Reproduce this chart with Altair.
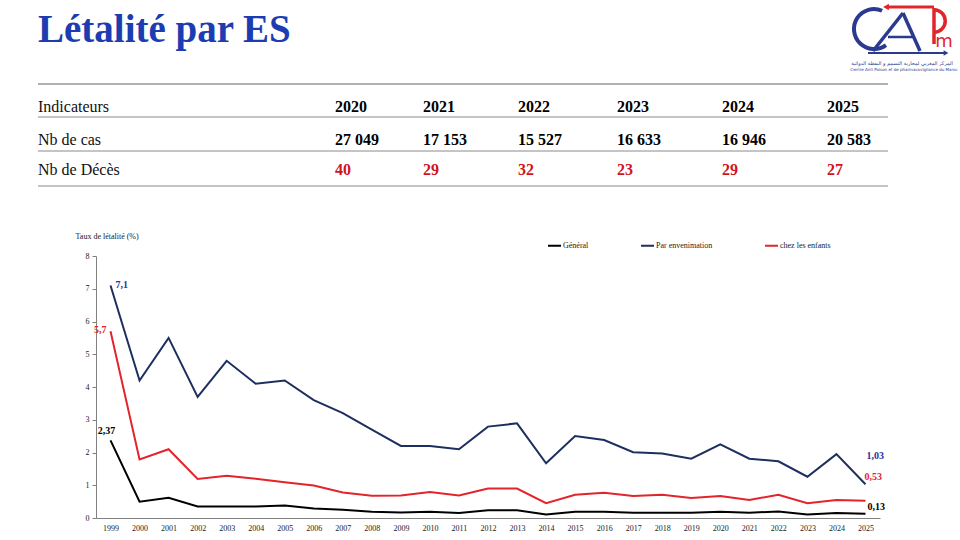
import altair as alt
import pandas as pd

# ---------------- data ----------------
years = list(range(1999, 2026))
general = [2.37, 0.50, 0.62, 0.35, 0.35, 0.35, 0.38, 0.29, 0.25, 0.19, 0.17, 0.19, 0.15,
           0.24, 0.24, 0.11, 0.19, 0.19, 0.16, 0.16, 0.16, 0.19, 0.16, 0.20, 0.11, 0.15, 0.13]
envenimation = [7.1, 4.2, 5.5, 3.7, 4.8, 4.1, 4.2, 3.6, 3.2, 2.7, 2.2, 2.2, 2.1,
                2.79, 2.89, 1.67, 2.5, 2.38, 2.01, 1.97, 1.81, 2.25, 1.81, 1.73, 1.26, 1.95, 1.03]
enfants = [5.7, 1.79, 2.1, 1.19, 1.29, 1.2, 1.09, 0.99, 0.78, 0.68, 0.69, 0.79, 0.69,
           0.9, 0.9, 0.45, 0.71, 0.77, 0.67, 0.71, 0.61, 0.67, 0.55, 0.71, 0.45, 0.55, 0.53]
series_names = ["Général", "Par envenimation", "chez les enfants"]
series_colors = ["#000000", "#1c2f5e", "#e3242b"]

table_years = [2020, 2021, 2022, 2023, 2024, 2025]
nb_cas = [27049, 17153, 15527, 16633, 16946, 20583]
nb_deces = [40, 29, 32, 23, 29, 27]
row_labels = ["Indicateurs", "Nb de cas", "Nb de Décès"]

# ---------------- layout ----------------
OX, OY = 96, 256          # plot-area origin on the page
W, H = 784, 262           # plot-area size
FONT = "Liberation Serif"
dummy = pd.DataFrame({"k": [0]})


def txt(x, y, s, **kw):
    return alt.Chart(dummy).mark_text(**kw).encode(
        x=alt.value(x - OX), y=alt.value(y - OY), text=alt.value(s))


def rule(x1, y1, x2, y2, color, w):
    return alt.Chart(dummy).mark_rule(color=color, strokeWidth=w).encode(
        x=alt.value(x1 - OX), y=alt.value(y1 - OY),
        x2=alt.value(x2 - OX), y2=alt.value(y2 - OY))


layers = []

# title
layers.append(txt(38, 42, "Létalité par ES", align="left", baseline="alphabetic",
                  font=FONT, fontSize=39, fontWeight="bold", color="#1c3db2"))

# ---------------- logo (approximation) ----------------
BLUE_L, RED_L = "#2b3a8f", "#e0262b"
layers.append(alt.Chart(dummy).mark_arc(radius=22, radius2=18, theta=2.5, theta2=6.7,
                                        color=BLUE_L).encode(x=alt.value(874 - OX), y=alt.value(29 - OY)))
layers.append(rule(873, 51, 903, 13, BLUE_L, 3.5))
layers.append(rule(903, 13, 920, 51, BLUE_L, 3.5))
layers.append(rule(888, 37, 914, 37, BLUE_L, 2.5))
layers.append(rule(934, 8, 934, 44, RED_L, 3.5))
layers.append(alt.Chart(dummy).mark_arc(radius=13, radius2=9.5, theta=0.0, theta2=3.1416,
                                        color=RED_L).encode(x=alt.value(934 - OX), y=alt.value(21 - OY)))
layers.append(rule(934, 7, 888, 7, RED_L, 3))
layers.append(alt.Chart(dummy).mark_point(shape="triangle-left", filled=True, size=45, opacity=1,
                                          color=RED_L).encode(x=alt.value(886 - OX), y=alt.value(7 - OY)))
layers.append(txt(944, 47, "m", align="center", baseline="alphabetic", font="DejaVu Sans",
                  fontSize=18, color=RED_L))
layers.append(rule(868, 53, 944, 53, BLUE_L, 2))
layers.append(alt.Chart(dummy).mark_point(shape="triangle-right", filled=True, size=30, opacity=1,
                                          color=BLUE_L).encode(x=alt.value(946 - OX), y=alt.value(53 - OY)))
layers.append(txt(902, 63, "المركز المغربي لمحاربة التسمم و اليقظة الدوائية", align="center",
                  baseline="middle", font="DejaVu Sans", fontSize=5, color="#2b3a8f"))
layers.append(txt(904, 70, "Centre Anti Poison et de pharmacovigilance du Maroc", align="center",
                  baseline="middle", font="DejaVu Sans", fontSize=4, color="#2b3a8f"))

# ---------------- table ----------------
layers.append(rule(38, 84, 888, 84, "#b0b0b0", 2))
for yy in [117, 151, 186]:
    layers.append(rule(38, yy, 888, yy, "#8a8a8a", 1))
row_y = [107, 140, 170]
for lab, yy in zip(row_labels, row_y):
    layers.append(txt(38, yy, lab, align="left", baseline="middle", font=FONT, fontSize=16,
                      color="#111111"))

col_scale = alt.Scale(domain=table_years, range=[239, 327, 422, 521, 626, 731],
                      zero=False, nice=False)
tab = pd.DataFrame({
    "col": table_years,
    "hdr": [str(y) for y in table_years],
    "cas": [f"{n:,}".replace(",", " ") for n in nb_cas],
    "dec": [str(n) for n in nb_deces],
})
for field, yy, colr in [("hdr", row_y[0], "#000000"), ("cas", row_y[1], "#000000"),
                        ("dec", row_y[2], "#d0141c")]:
    layers.append(alt.Chart(tab).mark_text(align="left", baseline="middle", font=FONT,
                                           fontSize=16, fontWeight="bold", color=colr).encode(
        x=alt.X("col:Q", scale=col_scale, axis=None),
        y=alt.value(yy - OY),
        text=alt.Text(f"{field}:N")))

# ---------------- line chart ----------------
long = pd.DataFrame({
    "year": years * 3,
    "serie": [n for n in series_names for _ in years],
    "value": general + envenimation + enfants,
})
xs = alt.Scale(domain=[1998.5, 2025.5], zero=False, nice=False)
ys = alt.Scale(domain=[0, 8], zero=False, nice=False)

x_axis = alt.Axis(values=years, format="d", title=None, labelFont=FONT, labelFontSize=8,
                  labelColor="#222222", tickSize=0, domainColor="#808080", labelPadding=6,
                  grid=False, labelFlush=False, labelOverlap=False)
y_axis = alt.Axis(values=list(range(9)), title="Taux  de létalité  (%)", titleAngle=0,
                  titleX=-21, titleY=-20, titleAlign="left", titleBaseline="middle",
                  titleFont=FONT, titleFontSize=8, titleFontWeight="normal", titleColor="#222222",
                  labelFont=FONT, labelFontSize=8, labelColor="#222222", tickSize=4,
                  tickColor="#808080", domainColor="#808080", grid=False, labelPadding=3)

lines = alt.Chart(long).mark_line(strokeWidth=2).encode(
    x=alt.X("year:Q", scale=xs, axis=x_axis),
    y=alt.Y("value:Q", scale=ys, axis=y_axis),
    color=alt.Color("serie:N", sort=series_names,
                    scale=alt.Scale(domain=series_names, range=series_colors),
                    legend=alt.Legend(title=None, orient="none", legendX=451, legendY=-18,
                                      direction="horizontal", symbolType="stroke",
                                      symbolSize=169, symbolStrokeWidth=2, labelFont=FONT,
                                      labelFontSize=8, labelColor="#222222", labelOffset=1,
                                      columnPadding=48)),
)
layers.append(lines)

# value labels at the ends
lab_colors = ["#000000", "#2e3192", "#e3242b"]
series_vals = [general, envenimation, enfants]
first_offsets = [("center", -4, -9), ("left", 5, 0), ("right", -4, -1)]
last_offsets = [("left", 2, -7), ("left", 1, -28), ("left", -1, -24)]


def fmt(v):
    return f"{v}".replace(".", ",")


for i in range(3):
    for idx, offs in [(0, first_offsets[i]), (-1, last_offsets[i])]:
        d = pd.DataFrame({"year": [years[idx]], "value": [series_vals[i][idx]],
                          "lab": [fmt(series_vals[i][idx])]})
        al, dx, dy = offs
        layers.append(alt.Chart(d).mark_text(align=al, baseline="middle", dx=dx, dy=dy,
                                             font=FONT, fontSize=10, fontWeight="bold",
                                             color=lab_colors[i]).encode(
            x=alt.X("year:Q", scale=xs, axis=None),
            y=alt.Y("value:Q", scale=ys, axis=None),
            text="lab:N"))

chart = alt.layer(*layers).resolve_scale(x="independent", y="independent").properties(
    width=W, height=H,
    padding={"left": OX, "top": OY, "right": 960 - OX - W, "bottom": 540 - OY - H},
    autosize=alt.AutoSizeParams(type="none"),
    background="white",
).configure_view(stroke=None)

chart.save("out.html", embed_options={"renderer": "svg", "actions": False})
